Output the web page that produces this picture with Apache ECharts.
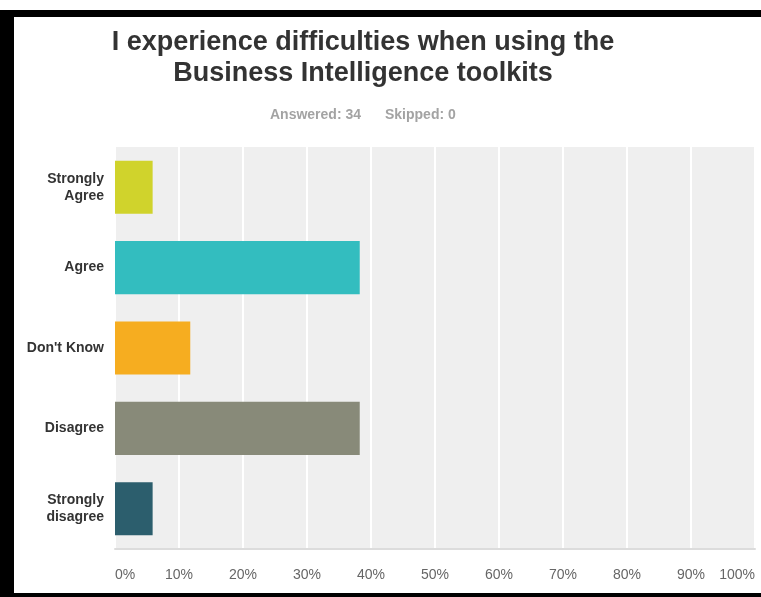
<!DOCTYPE html>
<html>
<head>
<meta charset="utf-8">
<script src="https://cdn.jsdelivr.net/npm/echarts@6/dist/echarts.min.js"></script>
<style>
html,body{margin:0;padding:0;background:#fff;}
#chart{width:761px;height:597px;}
</style>
</head>
<body>
<div id="chart"></div>
<script>
const titleText = 'I experience difficulties when using the\nBusiness Intelligence toolkits';
const answeredText = 'Answered: 34';
const skippedText = 'Skipped: 0';
const categories = ['Strongly\nAgree', 'Agree', "Don't Know", 'Disagree', 'Strongly\ndisagree'];
const values = [5.88, 38.24, 11.76, 38.24, 5.88];
const barColors = ['#d0d32c', '#33bdbf', '#f6ad20', '#888a79', '#2c5e6d'];
const xTicks = [0, 10, 20, 30, 40, 50, 60, 70, 80, 90, 100];

const chart = echarts.init(document.getElementById('chart'), null, {renderer: 'canvas'});
chart.setOption({
  backgroundColor: '#fff',
  animation: false,
  title: [
    {
      text: titleText,
      left: 358, top: 22, textAlign: 'center',
      textStyle: {fontFamily: 'Liberation Sans, Arial, sans-serif', fontWeight: 'bold', fontSize: 27, color: '#333', lineHeight: 31, align: 'center'}
    },
    {
      text: answeredText,
      left: 265, top: 103,
      textStyle: {fontFamily: 'Liberation Sans, Arial, sans-serif', fontWeight: 'bold', fontSize: 14, color: '#a3a3a3'}
    },
    {
      text: skippedText,
      left: 380, top: 103,
      textStyle: {fontFamily: 'Liberation Sans, Arial, sans-serif', fontWeight: 'bold', fontSize: 14, color: '#a3a3a3'}
    }
  ],
  grid: {
    left: 115, right: 6, top: 147, bottom: 48,
    show: true, backgroundColor: '#efefef', borderWidth: 0
  },
  xAxis: {
    type: 'value', min: 0, max: 100, interval: 10,
    axisLine: {show: true, lineStyle: {color: '#dcdcdc', width: 2}},
    axisTick: {show: false},
    splitLine: {show: true, lineStyle: {color: '#ffffff', width: 2}},
    axisLabel: {
      formatter: v => xTicks.includes(v) ? v + '%' : '',
      color: '#666', fontSize: 14, fontFamily: 'Liberation Sans, Arial, sans-serif',
      margin: 19, alignMinLabel: 'left', alignMaxLabel: 'right'
    }
  },
  yAxis: {
    type: 'category', data: categories, inverse: true,
    axisLine: {show: false}, axisTick: {show: false},
    axisLabel: {
      color: '#333', fontSize: 14, fontWeight: 'bold', fontFamily: 'Liberation Sans, Arial, sans-serif',
      margin: 11, lineHeight: 17, align: 'right'
    }
  },
  series: [{
    type: 'bar',
    data: values.map((v, i) => ({value: v, itemStyle: {color: barColors[i]}})),
    barWidth: '66%'
  }],
  graphic: [
    {type: 'rect', shape: {x: 0, y: 10, width: 761, height: 7}, style: {fill: '#000'}, z: 100},
    {type: 'rect', shape: {x: 0, y: 10, width: 14, height: 587}, style: {fill: '#000'}, z: 100},
    {type: 'rect', shape: {x: 0, y: 593, width: 761, height: 4}, style: {fill: '#000'}, z: 100}
  ]
});
</script>
</body>
</html>
